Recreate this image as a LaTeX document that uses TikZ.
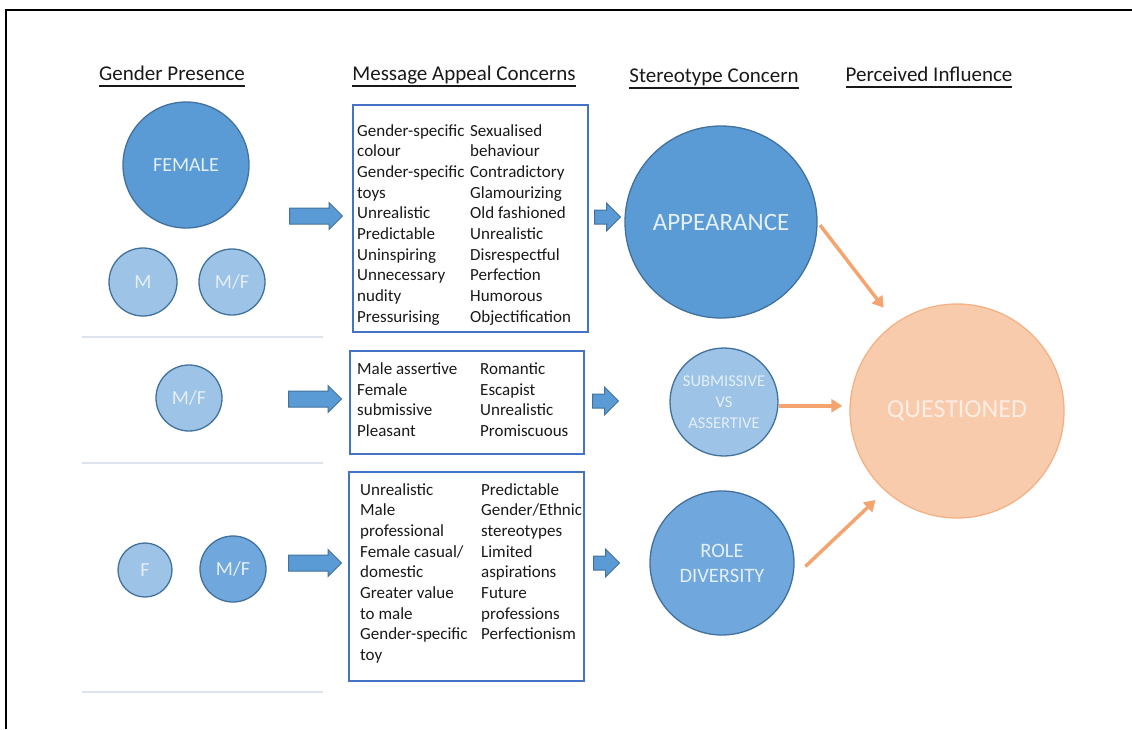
\documentclass[tikz,border=0pt]{standalone}
\usepackage{fontspec}
\setmainfont{Carlito}
\usetikzlibrary{shapes.arrows,arrows.meta}

\definecolor{accblue}{HTML}{5B9BD5}
\definecolor{midblue}{HTML}{70A7DC}
\definecolor{paleblue}{HTML}{9DC3E6}
\definecolor{rimblue}{HTML}{41719C}
\definecolor{boxblue}{HTML}{4472C4}
\definecolor{peach}{HTML}{F8CBAD}
\definecolor{peachrim}{HTML}{F4B183}
\definecolor{peachtext}{HTML}{FCEDE3}
\definecolor{orangeline}{HTML}{F4A46E}
\definecolor{disctext}{HTML}{E4EFF9}
\definecolor{rulegrey}{HTML}{DCE3EE}

\newcommand\ulhead[1]{\setbox0\hbox{#1}\rlap{\rule[-6.5pt]{\wd0}{1.6pt}}\box0}

\begin{document}
\begin{tikzpicture}[x=1pt,y=-1pt,
disc/.style={circle,draw=rimblue,line width=1.3pt,inner sep=0pt,text=disctext,align=center},
heading/.style={font=\fontsize{21}{25}\selectfont,text=black!90,anchor=base,inner sep=0pt},
msgbox/.style={draw=boxblue,line width=1.6pt,anchor=north west,inner sep=0pt},
msgtext/.style={font=\fontsize{17}{20.7}\selectfont,text=black!90,anchor=base west,inner sep=0pt},
bigarrow/.style={single arrow,draw=rimblue,fill=accblue,line width=1pt,inner xsep=0pt,inner ysep=7.5pt,minimum height=53pt,single arrow head extend=5.5pt},
smallarrow/.style={bigarrow,inner ysep=6.5pt,minimum height=26pt,single arrow head extend=7pt},
influence/.style={draw=orangeline,line width=3.5pt,-{Triangle[width=13pt,length=11pt]}},
divider/.style={draw=rulegrey,line width=1.3pt}]

\useasboundingbox (0,0) rectangle (1132,729);
\draw [line width=2.5pt] (6,729) -- (6,10) -- (1132,10);

\node (h1) at (172,80) [heading] {\ulhead{Gender Presence}};
\node (h2) at (464,80) [heading] {\ulhead{Message Appeal Concerns}};
\node (h3) at (714,82) [heading] {\ulhead{Stereotype Concern}};
\node (h4) at (929,81) [heading] {\ulhead{Perceived Influence}};

\node (g1) at (186,165) [disc,fill=accblue,minimum size=126pt,font=\fontsize{20}{24}\selectfont] {FEMALE};
\node (g2) at (143,282) [disc,fill=paleblue,minimum size=68pt,font=\fontsize{20}{24}\selectfont] {M};
\node (g3) at (232,282) [disc,fill=paleblue,minimum size=66pt,font=\fontsize{20}{24}\selectfont] {M/F};
\node (g4) at (189,398) [disc,fill=paleblue,minimum size=66pt,font=\fontsize{20}{24}\selectfont] {M/F};
\node (g5) at (145,570) [disc,fill=paleblue,minimum size=54pt,font=\fontsize{20}{24}\selectfont] {F};
\node (g6) at (233,569) [disc,fill=midblue,minimum size=66pt,font=\fontsize{20}{24}\selectfont] {M/F};

\draw [divider] (82,337) -- (323,337);
\draw [divider] (82,463) -- (323,463);
\draw [divider] (82,692) -- (323,692);

\node (a1) at (312,216) [bigarrow] {};
\node (a2) at (311,399) [bigarrow] {};
\node (a3) at (311,563) [bigarrow] {};

\node (m1) at (352,104) [msgbox,minimum width=235pt,minimum height=227pt] {};
\node (m2) at (349,350) [msgbox,minimum width=234pt,minimum height=103pt] {};
\node (m3) at (348,471) [msgbox,minimum width=235pt,minimum height=209pt] {};

\node (t1) at (357,136) [msgtext] {\begin{tabular}[t]{@{}p{113pt}@{}l@{}}
Gender-specific & Sexualised\\
colour & behaviour\\
Gender-specific & Contradictory\\
toys & Glamourizing\\
Unrealistic & Old fashioned\\
Predictable & Unrealistic\\
Uninspiring & Disrespectful\\
Unnecessary & Perfection\\
nudity & Humorous\\
Pressurising & Objectification
\end{tabular}};
\node (t2) at (357,374.5) [msgtext] {\begin{tabular}[t]{@{}p{123pt}@{}l@{}}
Male assertive & Romantic\\
Female & Escapist\\
submissive & Unrealistic\\
Pleasant & Promiscuous
\end{tabular}};
\node (t3) at (360,495) [msgtext] {\begin{tabular}[t]{@{}p{121pt}@{}l@{}}
Unrealistic & Predictable\\
Male & Gender/Ethnic\\
professional & stereotypes\\
Female casual/ & Limited\\
domestic & aspirations\\
Greater value & Future\\
to male & professions\\
Gender-specific & Perfectionism\\
toy &
\end{tabular}};

\node (b1) at (604,217) [smallarrow] {};
\node (b2) at (602,401) [smallarrow] {};
\node (b3) at (603,563) [smallarrow] {};

\node (s1) at (721,222) [disc,fill=accblue,minimum size=192pt,font=\fontsize{25}{30}\selectfont] {APPEARANCE};
\node (s2) at (724,402) [disc,fill=paleblue,minimum size=108pt,font=\fontsize{16.5}{21}\selectfont] {SUBMISSIVE\\VS\\ASSERTIVE};
\node (s3) at (722,563) [disc,fill=midblue,minimum size=144pt,font=\fontsize{20.5}{25}\selectfont] {ROLE\\DIVERSITY};

\node (q) at (957,411) [disc,draw=peachrim,fill=peach,text=peachtext,minimum size=214pt,font=\fontsize{26}{31}\selectfont] {QUESTIONED};

\draw [influence,shorten <=4pt,shorten >=19pt] (s1.east) -- (q.125);
\draw [influence,shorten <=0pt,shorten >=7pt] (s2.-4) -- (s2.-4 -| q.west);
\draw [influence,shorten <=17pt,shorten >=13pt] (s3.-12) -- (q.228);

\end{tikzpicture}
\end{document}
